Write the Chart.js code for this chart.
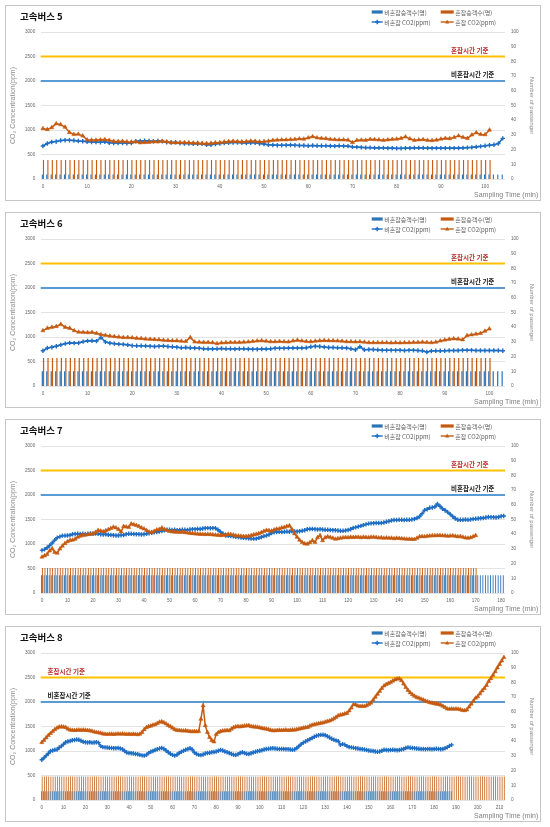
<!DOCTYPE html>
<html lang="ko">
<head>
<meta charset="utf-8">
<title>고속버스 CO2</title>
<script src="https://cdn.jsdelivr.net/npm/chart.js@4.4.1/dist/chart.umd.min.js"></script>
<style>
html,body{margin:0;padding:0;background:#fff;}
body{position:relative;width:550px;height:827px;overflow:hidden;}
.panel{position:absolute;left:5px;width:536px;height:196px;border:1px solid #c6c6c6;box-sizing:border-box;background:#fff;}
.panel canvas{position:absolute;left:0;top:0;}
</style>
</head>
<body>
<div class="panel" style="top:5px"><canvas id="bus5" width="534" height="194"></canvas></div>
<div class="panel" style="top:212px"><canvas id="bus6" width="534" height="194"></canvas></div>
<div class="panel" style="top:419px"><canvas id="bus7" width="534" height="194"></canvas></div>
<div class="panel" style="top:626px"><canvas id="bus8" width="534" height="194"></canvas></div>
<script>
// ---------------- DATA ----------------
const PANEL_TITLES = ['고속버스 5', '고속버스 6', '고속버스 7', '고속버스 8'];
const SERIES_NAMES = ['비혼잡승객수(명)', '혼잡승객수(명)', '비혼잡 CO2(ppm)', '혼잡 CO2(ppm)'];
const THRESHOLD_VALUES = [2500, 2000];
const THRESHOLD_NAMES = ['혼잡시간 기준', '비혼잡시간 기준'];
const CO2_TICK_LABELS = [0, 500, 1000, 1500, 2000, 2500, 3000];
const PAX_TICK_LABELS = [0, 10, 20, 30, 40, 50, 60, 70, 80, 90, 100];
const Y_TITLE = 'CO\u2082 Concentration(ppm)';
const Y1_TITLE = 'Number of passenger';
const X_TITLE = 'Sampling Time (min)';

const BUS5_XTICKS = [0,10,20,30,40,50,60,70,80,90,100];
const BUS6_XTICKS = [0,10,20,30,40,50,60,70,80,90,100];
const BUS7_XTICKS = [0,10,20,30,40,50,60,70,80,90,100,110,120,130,140,150,160,170,180];
const BUS8_XTICKS = [0,10,20,30,40,50,60,70,80,90,100,110,120,130,140,150,160,170,180,190,200,210];

const BUS5_BLUE_CO2 = [673,725,755,765,785,790,790,785,775,770,
760,755,755,750,760,740,735,735,735,730,
735,770,775,780,775,770,775,770,750,745,
750,730,725,725,720,720,720,700,700,715,
725,735,740,745,745,740,735,740,740,725,
715,700,695,690,690,690,695,690,685,685,
680,685,680,680,680,675,670,680,675,670,
655,650,645,640,640,635,635,635,630,630,
625,625,630,630,635,635,635,630,630,630,
630,630,630,630,630,635,640,645,655,665,
680,690,700,725,830];
const BUS5_ORANGE_CO2 = [1030,1010,1050,1130,1110,1060,950,910,915,880,
800,795,795,800,805,790,770,765,770,760,
755,760,740,745,750,760,760,770,760,745,
740,745,745,740,735,735,725,725,730,740,
745,755,765,770,765,760,765,775,770,760,
765,775,790,795,800,800,805,810,820,815,
840,865,840,830,825,810,805,800,800,795,
745,790,795,790,810,805,800,790,800,810,
815,830,860,820,790,800,805,790,785,795,
815,830,825,850,880,850,830,900,945,910,
905,1000];
const BUS5_BLUE_PAX = [3,3,3,3,3,3,3,3,3,3,
3,3,3,3,3,3,3,3,3,3,
3,3,3,3,3,3,3,3,3,3,
3,3,3,3,3,3,3,3,3,3,
3,3,3,3,3,3,3,3,3,3,
3,3,3,3,3,3,3,3,3,3,
3,3,3,3,3,3,3,3,3,3,
3,3,3,3,3,3,3,3,3,3,
3,3,3,3,3,3,3,3,3,3,
3,3,3,3,3,3,3,3,3,3,
3,3,3,3,3];
const BUS5_ORANGE_PAX = [13,13,13,13,13,13,13,13,13,13,
13,13,13,13,13,13,13,13,13,13,
13,13,13,13,13,13,13,13,13,13,
13,13,13,13,13,13,13,13,13,13,
13,13,13,13,13,13,13,13,13,13,
13,13,13,13,13,13,13,13,13,13,
13,13,13,13,13,13,13,13,13,13,
13,13,13,13,13,13,13,13,13,13,
13,13,13,13,13,13,13,13,13,13,
13,13,13,13,13,13,13,13,13,13,
13,13];

const BUS6_BLUE_CO2 = [720,775,790,810,840,865,880,875,880,905,
920,925,915,990,900,875,865,855,850,840,
825,820,820,815,810,805,810,815,805,800,
790,780,785,780,775,770,760,760,755,760,
765,760,760,755,760,760,755,750,750,755,
755,760,770,770,770,775,775,775,775,780,
800,810,805,795,785,785,780,780,775,760,
740,800,740,745,745,740,730,730,730,730,
730,725,730,730,725,720,695,715,720,720,
720,725,725,725,730,730,730,725,725,725,
725,725,725,720];
const BUS6_ORANGE_CO2 = [1130,1180,1200,1215,1260,1200,1180,1130,1100,1095,
1090,1095,1075,1050,1035,1020,1010,1000,990,990,
985,975,970,960,955,950,945,935,930,925,
925,915,910,990,900,895,890,890,885,865,
880,885,890,890,890,895,900,910,920,925,
915,905,905,910,905,900,920,935,920,910,
905,915,925,930,925,925,920,915,905,905,
900,905,895,885,885,885,885,885,880,885,
880,885,885,890,890,895,890,885,895,920,
940,955,965,960,945,1030,1045,1060,1075,1120,
1165];
const BUS6_BLUE_PAX = [10,10,10,10,10,10,10,10,10,10,
10,10,10,10,10,10,10,10,10,10,
10,10,10,10,10,10,10,10,10,10,
10,10,10,10,10,10,10,10,10,10,
10,10,10,10,10,10,10,10,10,10,
10,10,10,10,10,10,10,10,10,10,
10,10,10,10,10,10,10,10,10,10,
10,10,10,10,10,10,10,10,10,10,
10,10,10,10,10,10,10,10,10,10,
10,10,10,10,10,10,10,10,10,10,
10,10,10,10];
const BUS6_ORANGE_PAX = [19,19,19,19,19,19,19,19,19,19,
19,19,19,19,19,19,19,19,19,19,
19,19,19,19,19,19,19,19,19,19,
19,19,19,19,19,19,19,19,19,19,
19,19,19,19,19,19,19,19,19,19,
19,19,19,19,19,19,19,19,19,19,
19,19,19,19,19,19,19,19,19,19,
19,19,19,19,19,19,19,19,19,19,
19,19,19,19,19,19,19,19,19,19,
19,19,19,19,19,19,19,19,19,19,
19];

const BUS7_BLUE_CO2 = [870,890,925,970,1020,1080,1130,1150,1170,1170,
1175,1180,1200,1205,1210,1205,1210,1205,1210,1215,
1210,1215,1210,1200,1195,1200,1190,1185,1180,1175,
1175,1180,1185,1200,1210,1210,1205,1200,1200,1195,
1200,1210,1220,1230,1240,1245,1255,1265,1280,1290,
1290,1285,1290,1280,1285,1290,1290,1285,1295,1300,
1300,1310,1305,1315,1320,1325,1320,1325,1320,1290,
1245,1210,1175,1165,1160,1155,1145,1140,1130,1125,
1120,1115,1110,1110,1110,1125,1140,1160,1175,1195,
1225,1240,1245,1250,1245,1250,1255,1250,1260,1255,
1255,1260,1270,1280,1300,1305,1305,1300,1295,1300,
1295,1290,1290,1285,1280,1280,1275,1270,1270,1275,
1285,1300,1330,1340,1355,1370,1385,1400,1415,1420,
1425,1430,1430,1430,1440,1455,1465,1480,1490,1490,
1495,1495,1490,1495,1495,1500,1510,1530,1560,1620,
1690,1710,1740,1745,1760,1815,1770,1720,1690,1650,
1610,1560,1520,1495,1495,1495,1500,1495,1500,1510,
1515,1520,1525,1530,1540,1550,1545,1545,1540,1550,
1565,1570];
const BUS7_ORANGE_CO2 = [735,760,790,860,905,830,815,900,960,1010,
1050,1075,1080,1100,1140,1160,1180,1185,1195,1200,
1210,1240,1280,1265,1250,1275,1295,1320,1345,1330,
1300,1250,1360,1350,1340,1410,1395,1380,1360,1330,
1310,1280,1245,1240,1260,1290,1300,1330,1300,1280,
1260,1250,1245,1245,1240,1245,1235,1230,1220,1215,
1210,1205,1200,1200,1195,1200,1195,1190,1185,1180,
1175,1180,1190,1200,1195,1185,1170,1165,1160,1155,
1155,1160,1175,1190,1200,1215,1235,1260,1280,1275,
1265,1290,1305,1310,1330,1340,1360,1375,1300,1210,
1140,1080,1035,1005,1000,1030,1070,1035,1130,1175,
1070,1130,1150,1135,1120,1100,1110,1120,1130,1135,
1130,1140,1135,1140,1140,1130,1140,1135,1130,1140,
1140,1135,1125,1130,1120,1125,1120,1120,1110,1120,
1115,1110,1105,1100,1100,1095,1095,1120,1150,1155,
1150,1160,1165,1170,1170,1175,1175,1170,1170,1160,
1165,1170,1160,1150,1155,1140,1125,1120,1130,1150,
1175];
const BUS7_BLUE_PAX = [12,12,12,12,12,12,12,12,12,12,
12,12,12,12,12,12,12,12,12,12,
12,12,12,12,12,12,12,12,12,12,
12,12,12,12,12,12,12,12,12,12,
12,12,12,12,12,12,12,12,12,12,
12,12,12,12,12,12,12,12,12,12,
12,12,12,12,12,12,12,12,12,12,
12,12,12,12,12,12,12,12,12,12,
12,12,12,12,12,12,12,12,12,12,
12,12,12,12,12,12,12,12,12,12,
12,12,12,12,12,12,12,12,12,12,
12,12,12,12,12,12,12,12,12,12,
12,12,12,12,12,12,12,12,12,12,
12,12,12,12,12,12,12,12,12,12,
12,12,12,12,12,12,12,12,12,12,
12,12,12,12,12,12,12,12,12,12,
12,12,12,12,12,12,12,12,12,12,
12,12,12,12,12,12,12,12,12,12,
12,12];
const BUS7_ORANGE_PAX = [17,17,17,17,17,17,17,17,17,17,
17,17,17,17,17,17,17,17,17,17,
17,17,17,17,17,17,17,17,17,17,
17,17,17,17,17,17,17,17,17,17,
17,17,17,17,17,17,17,17,17,17,
17,17,17,17,17,17,17,17,17,17,
17,17,17,17,17,17,17,17,17,17,
17,17,17,17,17,17,17,17,17,17,
17,17,17,17,17,17,17,17,17,17,
17,17,17,17,17,17,17,17,17,17,
17,17,17,17,17,17,17,17,17,17,
17,17,17,17,17,17,17,17,17,17,
17,17,17,17,17,17,17,17,17,17,
17,17,17,17,17,17,17,17,17,17,
17,17,17,17,17,17,17,17,17,17,
17,17,17,17,17,17,17,17,17,17,
17,17,17,17,17,17,17,17,17,17,
17];

const BUS8_BLUE_CO2 = [820,860,905,950,1000,1010,1025,1030,1070,1100,
1140,1180,1195,1205,1220,1225,1235,1230,1210,1190,
1180,1175,1180,1170,1175,1180,1170,1100,1080,1075,
1070,1065,1060,1055,1055,1060,1050,1035,1000,970,
960,955,950,940,935,920,910,905,920,960,
985,1000,1020,1035,1050,1060,1045,1010,975,945,
920,905,925,960,985,1005,1025,1040,1055,1030,
970,940,920,915,930,950,960,965,975,980,
990,1005,1020,1010,990,975,960,940,925,918,
935,960,973,960,945,940,955,970,985,995,
1005,1015,1030,1040,1045,1050,1055,1050,1045,1040,
1040,1040,1035,1035,1030,1025,1030,1060,1100,1140,
1170,1195,1220,1240,1265,1290,1310,1320,1330,1333,
1320,1300,1275,1250,1230,1215,1200,1125,1140,1130,
1100,1080,1075,1065,1055,1050,1040,1035,1030,1020,
1010,1005,1000,990,985,990,1005,1025,1020,1015,
1020,1025,1020,1015,1020,1030,1040,1060,1075,1065,
1060,1055,1050,1045,1040,1040,1035,1040,1040,1035,
1040,1045,1040,1035,1040,1055,1075,1105,1125];
const BUS8_ORANGE_CO2 = [1175,1220,1270,1320,1360,1400,1440,1470,1490,1495,
1490,1480,1450,1430,1425,1420,1425,1430,1425,1430,
1425,1420,1415,1405,1390,1380,1375,1365,1350,1345,
1340,1345,1345,1340,1345,1350,1345,1350,1345,1340,
1345,1340,1345,1340,1335,1345,1380,1440,1480,1500,
1510,1530,1540,1565,1590,1600,1580,1555,1525,1500,
1470,1440,1425,1420,1415,1410,1415,1405,1400,1395,
1400,1395,1400,1650,1925,1520,1380,1280,1215,1190,
1340,1380,1400,1410,1415,1420,1415,1450,1480,1495,
1500,1495,1505,1510,1515,1520,1500,1495,1490,1485,
1475,1465,1455,1450,1440,1425,1415,1415,1420,1425,
1420,1425,1430,1420,1425,1430,1430,1440,1450,1460,
1470,1480,1485,1510,1530,1540,1550,1560,1570,1575,
1590,1605,1615,1635,1660,1690,1720,1735,1745,1760,
1770,1820,1880,1950,1945,1920,1910,1915,1912,1930,
1955,1980,2040,2100,2160,2220,2280,2330,2360,2380,
2400,2430,2455,2470,2475,2440,2370,2300,2240,2190,
2150,2120,2095,2080,2060,2045,2020,2005,1990,1980,
1970,1960,1955,1940,1915,1890,1860,1855,1860,1855,
1860,1855,1845,1830,1825,1840,1900,1960,2020,2080,
2110,2170,2230,2280,2340,2420,2480,2550,2620,2700,
2770,2840,2910];
const BUS8_BLUE_PAX = [6,6,6,6,6,6,6,6,6,6,
6,6,6,6,6,6,6,6,6,6,
6,6,6,6,6,6,6,6,6,6,
6,6,6,6,6,6,6,6,6,6,
6,6,6,6,6,6,6,6,6,6,
6,6,6,6,6,6,6,6,6,6,
6,6,6,6,6,6,6,6,6,6,
6,6,6,6,6,6,6,6,6,6,
6,6,6,6,6,6,6,6,6,6,
6,6,6,6,6,6,6,6,6,6,
6,6,6,6,6,6,6,6,6,6,
6,6,6,6,6,6,6,6,6,6,
6,6,6,6,6,6,6,6,6,6,
6,6,6,6,6,6,6,6,6,6,
6,6,6,6,6,6,6,6,6,6,
6,6,6,6,6,6,6,6,6,6,
6,6,6,6,6,6,6,6,6,6,
6,6,6,6,6,6,6,6,6,6,
6,6,6,6,6,6,6,6,6];
const BUS8_ORANGE_PAX = [16,16,16,16,16,16,16,16,16,16,
16,16,16,16,16,16,16,16,16,16,
16,16,16,16,16,16,16,16,16,16,
16,16,16,16,16,16,16,16,16,16,
16,16,16,16,16,16,16,16,16,16,
16,16,16,16,16,16,16,16,16,16,
16,16,16,16,16,16,16,16,16,16,
16,16,16,16,16,16,16,16,16,16,
16,16,16,16,16,16,16,16,16,16,
16,16,16,16,16,16,16,16,16,16,
16,16,16,16,16,16,16,16,16,16,
16,16,16,16,16,16,16,16,16,16,
16,16,16,16,16,16,16,16,16,16,
16,16,16,16,16,16,16,16,16,16,
16,16,16,16,16,16,16,16,16,16,
16,16,16,16,16,16,16,16,16,16,
16,16,16,16,16,16,16,16,16,16,
16,16,16,16,16,16,16,16,16,16,
16,16,16,16,16,16,16,16,16,16,
16,16,16,16,16,16,16,16,16,16,
16,16,16,16,16,16,16,16,16,16,
16,16,16];

// minute categories: one per sample of the longest series
const BUS5_MINUTES = Array.from({length: BUS5_BLUE_PAX.length}, (_, i) => i);
const BUS6_MINUTES = Array.from({length: BUS6_BLUE_PAX.length}, (_, i) => i);
const BUS7_MINUTES = Array.from({length: BUS7_BLUE_PAX.length}, (_, i) => i);
const BUS8_MINUTES = Array.from({length: BUS8_ORANGE_PAX.length}, (_, i) => i);

// ---------------- STYLES ----------------
const BLUE_BAR = '#2E75B6';
const ORANGE_BAR = '#C55A11';
const BLUE_LINE = '#1F6EC3';
const ORANGE_LINE = '#C55A11';
const THRESHOLD_COLORS = ['#FFC000', '#5B9BD5'];
const THRESHOLD_TEXT_COLORS = ['#B8312F', '#1a1a1a'];
const TICK_FONT = {family: 'Liberation Sans', size: 4.6};
const TICK_COLOR = '#666666';

const LEGEND_LAYOUT = [
  {x: 365.7, y: 6, w: 11, kind: 'box', color: BLUE_BAR},
  {x: 434.7, y: 6, w: 13, kind: 'box', color: ORANGE_BAR},
  {x: 365.7, y: 16, w: 11, kind: 'line', color: BLUE_LINE, marker: 'cross'},
  {x: 434.7, y: 16, w: 13, kind: 'line', color: ORANGE_LINE, marker: 'triangle'}
];

function drawMarker(ctx, style, x, y, r, color) {
  ctx.save();
  ctx.strokeStyle = color; ctx.fillStyle = color;
  if (style === 'cross') {
    ctx.lineWidth = 1.4;
    ctx.beginPath();
    ctx.moveTo(x - r, y); ctx.lineTo(x + r, y);
    ctx.moveTo(x, y - r); ctx.lineTo(x, y + r);
    ctx.stroke();
  } else {
    ctx.beginPath();
    ctx.moveTo(x, y - r); ctx.lineTo(x + r * 0.95, y + r * 0.65); ctx.lineTo(x - r * 0.95, y + r * 0.65);
    ctx.closePath(); ctx.fill();
  }
  ctx.restore();
}

const decorPlugin = {
  id: 'decor',
  beforeDatasetsDraw(chart) {
    const {ctx, chartArea: a, scales: {y}} = chart;
    ctx.save();
    THRESHOLD_VALUES.forEach((v, i) => {
      const py = y.getPixelForValue(v);
      ctx.strokeStyle = THRESHOLD_COLORS[i];
      ctx.lineWidth = 2;
      ctx.beginPath(); ctx.moveTo(a.left, py); ctx.lineTo(a.right, py); ctx.stroke();
    });
    ctx.restore();
  },
  afterDraw(chart, args, o) {
    const {ctx, scales: {y}} = chart;
    ctx.save();
    ctx.textBaseline = 'middle';
    ctx.textAlign = 'left';
    // title
    ctx.fillStyle = '#111';
    ctx.font = 'bold 9.5px "Noto Sans CJK KR"';
    ctx.fillText(o.title, 14, 10.7);
    // threshold labels
    ctx.font = 'bold 6.5px "Noto Sans CJK KR"';
    THRESHOLD_VALUES.forEach((v, i) => {
      ctx.fillStyle = THRESHOLD_TEXT_COLORS[i];
      ctx.fillText(THRESHOLD_NAMES[i], o.labelX, y.getPixelForValue(v) - 6.3);
    });
    // legend
    ctx.font = '6px "Noto Sans CJK KR"';
    LEGEND_LAYOUT.forEach((it, i) => {
      if (it.kind === 'box') {
        ctx.fillStyle = it.color;
        ctx.fillRect(it.x, it.y - 1.6, it.w, 3.2);
      } else {
        ctx.strokeStyle = it.color; ctx.lineWidth = 1.4;
        ctx.beginPath(); ctx.moveTo(it.x, it.y); ctx.lineTo(it.x + it.w, it.y); ctx.stroke();
        drawMarker(ctx, it.marker, it.x + it.w / 2, it.y, 2.2, it.color);
      }
      ctx.fillStyle = '#595959';
      ctx.fillText(SERIES_NAMES[i], it.x + it.w + 1.5, it.y + 0.3);
    });
    // x axis title
    ctx.font = '7px "Liberation Sans"';
    ctx.fillStyle = '#7f7f7f';
    ctx.textAlign = 'right';
    ctx.fillText(X_TITLE, 532.3, 189.5);
    ctx.restore();
  }
};

const PANELS = [
  {canvas: 'bus5', title: PANEL_TITLES[0], minutes: BUS5_MINUTES, xticks: BUS5_XTICKS,
   blueCo2: BUS5_BLUE_CO2, orangeCo2: BUS5_ORANGE_CO2, bluePax: BUS5_BLUE_PAX, orangePax: BUS5_ORANGE_PAX,
   labelX: 445, catPct: 0.5},
  {canvas: 'bus6', title: PANEL_TITLES[1], minutes: BUS6_MINUTES, xticks: BUS6_XTICKS,
   blueCo2: BUS6_BLUE_CO2, orangeCo2: BUS6_ORANGE_CO2, bluePax: BUS6_BLUE_PAX, orangePax: BUS6_ORANGE_PAX,
   labelX: 445, catPct: 0.55},
  {canvas: 'bus7', title: PANEL_TITLES[2], minutes: BUS7_MINUTES, xticks: BUS7_XTICKS,
   blueCo2: BUS7_BLUE_CO2, orangeCo2: BUS7_ORANGE_CO2, bluePax: BUS7_BLUE_PAX, orangePax: BUS7_ORANGE_PAX,
   labelX: 445, catPct: 0.7},
  {canvas: 'bus8', title: PANEL_TITLES[3], minutes: BUS8_MINUTES, xticks: BUS8_XTICKS,
   blueCo2: BUS8_BLUE_CO2, orangeCo2: BUS8_ORANGE_CO2, bluePax: BUS8_BLUE_PAX, orangePax: BUS8_ORANGE_PAX,
   labelX: 41.5, catPct: 0.7}
];

function makeChart(p) {
  return new Chart(document.getElementById(p.canvas), {
    type: 'bar',
    data: {
      labels: p.minutes,
      datasets: [
        {type: 'line', label: SERIES_NAMES[3], data: p.orangeCo2, yAxisID: 'y',
         borderColor: ORANGE_LINE, backgroundColor: ORANGE_LINE, borderWidth: 1.5,
         pointStyle: 'triangle', pointRadius: 2.4, pointBorderWidth: 0.5, tension: 0, order: 0},
        {type: 'line', label: SERIES_NAMES[2], data: p.blueCo2, yAxisID: 'y',
         borderColor: BLUE_LINE, backgroundColor: BLUE_LINE, borderWidth: 1.6,
         pointStyle: 'cross', pointRadius: 2.2, pointBorderWidth: 1.4, tension: 0, order: 1},
        {type: 'bar', label: SERIES_NAMES[0], data: p.bluePax, yAxisID: 'y1',
         backgroundColor: BLUE_BAR, barPercentage: 1, categoryPercentage: p.catPct, order: 2},
        {type: 'bar', label: SERIES_NAMES[1], data: p.orangePax, yAxisID: 'y1',
         backgroundColor: ORANGE_BAR, barPercentage: 1, categoryPercentage: p.catPct, order: 2}
      ]
    },
    options: {
      responsive: false,
      animation: false,
      devicePixelRatio: 1,
      events: [],
      layout: {padding: {top: 26, left: 0, right: 0, bottom: 0}},
      plugins: {
        legend: {display: false},
        tooltip: {enabled: false},
        decor: {title: p.title, labelX: p.labelX}
      },
      scales: {
        x: {
          type: 'category',
          offset: true,
          grid: {display: false, drawTicks: false},
          border: {display: false},
          afterFit(s) { s.height = 21; },
          ticks: {
            autoSkip: false, maxRotation: 0, minRotation: 0, padding: 5,
            font: TICK_FONT, color: TICK_COLOR,
            callback(v, i) { const m = p.minutes[i]; return p.xticks.includes(m) ? String(m) : null; }
          }
        },
        y: {
          position: 'left',
          min: CO2_TICK_LABELS[0], max: CO2_TICK_LABELS[CO2_TICK_LABELS.length - 1],
          afterFit(s) { s.width = 34.7; },
          grid: {color: '#dcdcdc', lineWidth: 0.8, drawTicks: false},
          border: {display: false},
          ticks: {stepSize: CO2_TICK_LABELS[1] - CO2_TICK_LABELS[0], padding: 5.5, font: TICK_FONT, color: TICK_COLOR,
                  callback(v) { return String(v); }},
          title: {display: true, text: Y_TITLE, font: {family: 'Liberation Sans', size: 7}, color: '#8c8c8c', padding: {top: 2.5, bottom: 0}}
        },
        y1: {
          position: 'right',
          min: PAX_TICK_LABELS[0], max: PAX_TICK_LABELS[PAX_TICK_LABELS.length - 1],
          afterFit(s) { s.width = 35; },
          grid: {display: false, drawTicks: false},
          border: {display: false},
          ticks: {stepSize: PAX_TICK_LABELS[1] - PAX_TICK_LABELS[0], padding: 6, font: TICK_FONT, color: TICK_COLOR,
                  callback(v) { return String(v); }},
          title: {display: true, text: Y1_TITLE, font: {family: 'Liberation Sans', size: 6}, color: '#8c8c8c', padding: {top: 4.7, bottom: 0}}
        }
      }
    },
    plugins: [decorPlugin]
  });
}

PANELS.forEach(makeChart);
</script>
</body>
</html>
